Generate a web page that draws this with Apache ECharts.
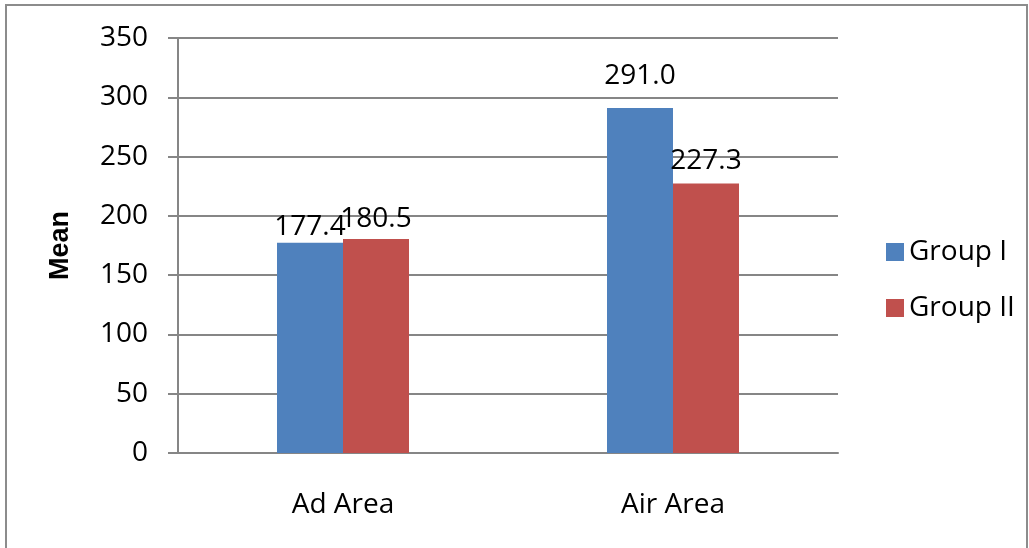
<!DOCTYPE html>
<html><head><meta charset="utf-8">
<script src="https://cdn.jsdelivr.net/npm/echarts@6/dist/echarts.min.js"></script>
<style>html,body{margin:0;padding:0;background:#fff}#c{width:1029px;height:548px}</style>
</head><body><div id="c"></div>
<script>
const categories = ['Ad Area', 'Air Area'];
const seriesNames = ['Group I', 'Group II'];
const group1 = [177.4, 291.0];
const group2 = [180.5, 227.3];
const yTicks = [0, 50, 100, 150, 200, 250, 300, 350];

// label offsets above bars (style only), as placed in the original
const g1LabelDist = [2, 18];
const g2LabelDist = [6, 8];

const font = '"Open Sans", "Liberation Sans", sans-serif';
const chart = echarts.init(document.getElementById('c'), null, {renderer: 'canvas'});
const labelCfg = {show: true, position: 'top', color: '#000', fontFamily: font, fontSize: 28,
  formatter: p => p.value.toFixed(1)};
const mk = (vals, dists) => vals.map((v, i) => ({value: v, label: {distance: dists[i]}}));
chart.setOption({
  animation: false,
  backgroundColor: '#fff',
  graphic: [{type: 'rect', shape: {x: 6, y: 5, width: 1021, height: 600},
    style: {fill: 'none', stroke: '#8c8c8c', lineWidth: 2}, z: -1}],
  grid: {left: 178, right: 191, top: 38, bottom: 95},
  legend: {orient: 'vertical', left: 881, top: 233, itemWidth: 18, itemHeight: 18, itemGap: 28,
    icon: 'rect', textStyle: {fontFamily: font, fontSize: 28, color: '#000'},
    data: seriesNames},
  xAxis: {type: 'category', data: categories,
    axisLine: {lineStyle: {color: '#868686', width: 2}}, axisTick: {show: false},
    axisLabel: {fontFamily: font, fontSize: 28, color: '#000', margin: 38}},
  yAxis: {type: 'value', min: yTicks[0], max: yTicks[yTicks.length - 1], interval: 50,
    name: 'Mean', nameLocation: 'middle', nameGap: 104,
    nameTextStyle: {fontFamily: '"Liberation Sans", Arial, sans-serif', fontSize: 27, fontWeight: 'bold', color: '#000'},
    axisLine: {show: true, lineStyle: {color: '#868686', width: 2}},
    axisTick: {show: true, length: 10, lineStyle: {color: '#868686', width: 2}},
    splitLine: {lineStyle: {color: '#868686', width: 2}},
    axisLabel: {fontFamily: font, fontSize: 28, color: '#000', margin: 30}},
  series: [
    {name: seriesNames[0], type: 'bar', data: mk(group1, g1LabelDist), barGap: '0%', barCategoryGap: '60%',
     itemStyle: {color: '#4F81BD'}, label: labelCfg},
    {name: seriesNames[1], type: 'bar', data: mk(group2, g2LabelDist), barGap: '0%', barCategoryGap: '60%',
     itemStyle: {color: '#C0504D'}, label: labelCfg}
  ]
});
</script></body></html>
